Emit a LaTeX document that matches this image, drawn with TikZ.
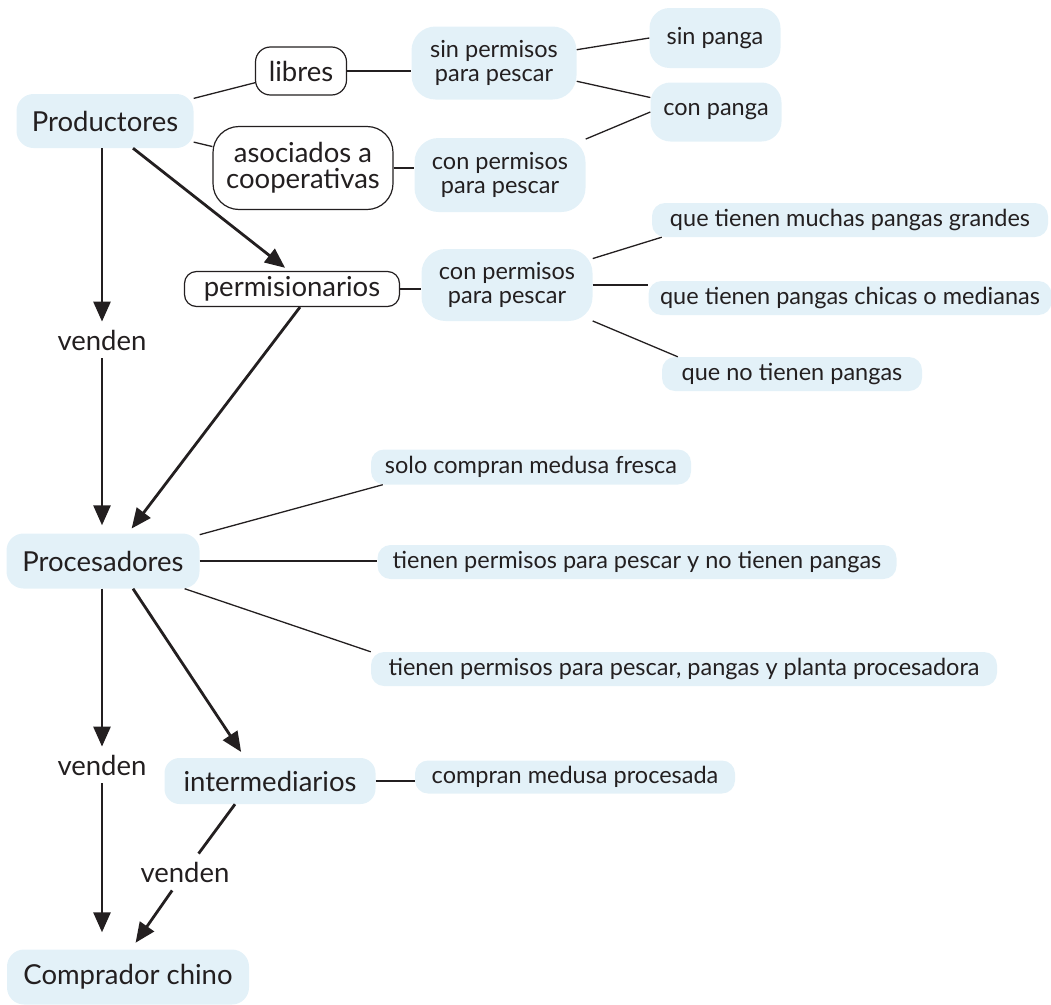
\documentclass[tikz,border=0pt]{standalone}
\usepackage{fontspec}
\setmainfont{Lato}
\usepackage{tikz}
\usetikzlibrary{arrows.meta,positioning}
\definecolor{celeste}{HTML}{E3F1F8}
\definecolor{tinta}{HTML}{231F20}
\tikzset
{
    mainnode/.style  = {rectangle, rounded corners=17pt, fill=celeste, text=tinta, align=center, inner sep=0pt, font=\fontsize{27.5}{26}\selectfont},
    framenode/.style = {rectangle, rounded corners=15pt, draw=tinta, line width=1.2pt, fill=white, text=tinta, align=center, inner sep=0pt, font=\fontsize{27.5}{26}\selectfont},
    leafnode/.style  = {rectangle, rounded corners=13pt, fill=celeste, text=tinta, align=center, inner sep=0pt, font=\fontsize{23.5}{24.5}\selectfont},
    verbnode/.style  = {text=tinta, inner xsep=2pt, inner ysep=8pt, font=\fontsize{27.5}{26}\selectfont},
    link/.style      = {-, draw=tinta, line width=1.3pt},
    flow/.style      = {-{Triangle[length=20pt,width=17pt]}, draw=tinta, line width=2.8pt}
}

\begin{document}
\begin{tikzpicture}[x=1pt, y=-1pt]
    \useasboundingbox (0,0) rectangle (1051,1004);

    \node [mainnode, minimum width=177pt, minimum height=54pt] (prod) at (105,121) {Productores};
    \node [framenode, minimum width=91pt, minimum height=48pt] (libres) at (301,71) {libres};
    \node [framenode, minimum width=180pt, minimum height=83pt, rounded corners=26pt] (asoc) at (303,168) {asociados a\\cooperativas};
    \node [leafnode, minimum width=165pt, minimum height=73pt, rounded corners=24pt] (sinperm) at (494,63) {sin permisos\\para pescar};
    \node [leafnode, minimum width=171pt, minimum height=74pt, rounded corners=24pt] (conperm) at (500,175) {con permisos\\para pescar};
    \node [leafnode, minimum width=131pt, minimum height=60pt, rounded corners=20pt] (sinpanga) at (715,38) {sin panga};
    \node [leafnode, minimum width=131pt, minimum height=59pt, rounded corners=20pt] (conpanga) at (716,112) {con panga};

    \node [framenode, minimum width=215pt, minimum height=35pt, rounded corners=12pt] (perm) at (292,289) {permisionarios};
    \node [leafnode, minimum width=171pt, minimum height=72pt, rounded corners=24pt] (permpesca) at (507,285) {con permisos\\para pescar};
    \node [leafnode, minimum width=396pt, minimum height=34pt] (muchas) at (850,220) {que tienen muchas pangas grandes};
    \node [leafnode, minimum width=403pt, minimum height=34pt] (chicas) at (850,298) {que tienen pangas chicas o medianas};
    \node [leafnode, minimum width=260pt, minimum height=34pt] (sinpangas) at (792,374) {que no tienen pangas};

    \node [verbnode] (vendA) at (102,340) {venden};
    \node [mainnode, minimum width=193pt, minimum height=55pt] (proc) at (103,561) {Procesadores};
    \node [leafnode, minimum width=320pt, minimum height=35pt] (fresca) at (531,467) {solo compran medusa fresca};
    \node [leafnode, minimum width=519pt, minimum height=34pt] (sinplanta) at (637,562) {tienen permisos para pescar y no tienen pangas};
    \node [leafnode, minimum width=626pt, minimum height=34pt] (planta) at (684,669) {tienen permisos para pescar, pangas y planta procesadora};

    \node [verbnode] (vendB) at (102,765) {venden};
    \node [mainnode, minimum width=211pt, minimum height=46pt, rounded corners=15pt] (inter) at (270,781) {intermediarios};
    \node [leafnode, minimum width=320pt, minimum height=33pt] (procesada) at (575,777) {compran medusa procesada};
    \node [verbnode] (vendC) at (185,872) {venden};
    \node [mainnode, minimum width=242pt, minimum height=55pt] (chino) at (128,977) {Comprador chino};

    \draw [link] (prod) -- (libres);
    \draw [link] (prod) -- (asoc);
    \draw [link] (libres.east) -- (libres.east -| sinperm.west);
    \draw [link] (asoc.east) -- (asoc.east -| conperm.west);
    \draw [link] (sinperm) -- (sinpanga.west);
    \draw [link] (sinperm) -- (conpanga);
    \draw [link] (conperm) -- (conpanga.west);
    \draw [link] (perm.east) -- (perm.east -| permpesca.west);
    \draw [link] (permpesca) -- ([xshift=10pt]muchas.south west);
    \draw [link] (permpesca.east) -- (permpesca.east -| chicas.west);
    \draw [link] (permpesca) -- ([xshift=16pt]sinpangas.north west);
    \draw [link] (proc) -- ([xshift=12pt]fresca.south west);
    \draw [link] (proc.east) -- (proc.east -| sinplanta.west);
    \draw [link] (proc) -- (planta.north west);
    \draw [link] (inter.east) -- (inter.east -| procesada.west);

    \draw [flow] (vendA |- prod.south) -- (vendA.north);
    \draw [flow, shorten >=8pt] (vendA.south) -- (vendA |- proc.north);
    \draw [flow, shorten >=5pt] ([xshift=28pt]prod.south) -- ([xshift=-3pt]perm.north);
    \draw [flow, shorten >=6pt] ([xshift=8pt]perm.south) -- ([xshift=25pt]proc.north);
    \draw [flow] (vendB |- proc.south) -- (vendB.north);
    \draw [flow, shorten >=7pt] ([xshift=30pt]proc.south) -- ([xshift=-25pt]inter.north);
    \draw [flow, shorten >=17pt] (vendB.south) -- (vendB |- chino.north);
    \draw [link, line width=2.8pt] ([xshift=-35pt]inter.south) -- (vendC);
    \draw [flow, shorten >=8pt] (vendC) -- ([xshift=3pt]chino.north);
\end{tikzpicture}
\end{document}
